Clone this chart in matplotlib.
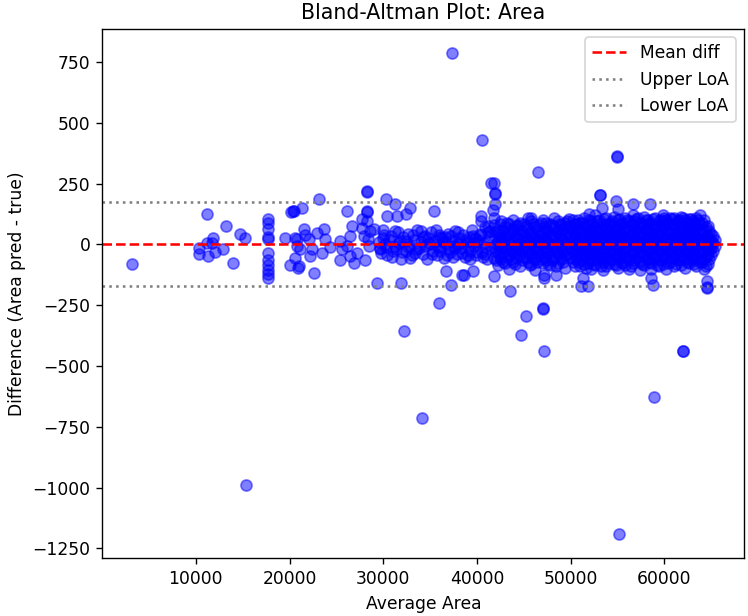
import matplotlib
matplotlib.use("Agg")
import matplotlib.pyplot as plt
from matplotlib.ticker import MultipleLocator

# ---- data (Average Area, Difference) ----
low_x = [3150, 11210, 10350, 10330, 11320, 12030, 12920, 11850, 11670, 11140,
         13210, 14710, 15250, 14000,
         17750, 17750, 17750, 17750, 17750, 17750, 17750, 17750, 17750, 17750, 17750,
         19530, 20100, 20350, 20780, 20060, 20780, 20900]
low_y = [-80, 124, -14, -41, -48, -32, -18, 28, 7, 5,
         76, 45, 28, -76,
         103, 90, 62, 32, 23, -34, -62, -83, -103, -120, -138,
         28, 133, 138, 21, -83, -7, -96]

mid_x = [20420, 21320, 20600, 21490, 21670, 21130, 20960, 20600, 22030, 22200,
         22560, 22380, 23100, 22920, 23630, 23810, 23450, 24300,
         25420, 25600, 25420, 26130, 26670, 26490, 26130, 26490, 26850, 27200,
         27740, 27740, 27920, 28100, 28270, 28270, 28270, 28270, 28270, 28630,
         28990, 28400, 28500, 29350, 29700, 30240, 30420, 31300, 31490, 32380,
         31840, 32200, 35410, 35950, 36660, 37200, 38450, 38620, 39520, 40410,
         40410, 41480, 30000, 32800]
mid_y = [138, 152, 28, 62, 41, -20, -89, -55, 21, -48,
         -117, -20, 186, 48, 62, 21, -34, -10,
         14, -20, -62, 138, 76, 34, -7, -48, -76, -34,
         69, 103, 34, -62, 221, 215, 138, 132, 96, 55,
         62, 21, -7, -158, -20, 186, 117, 165, 117, 124,
         -158, -358, 138, -241, -110, -165, -124, -124, -110, 117,
         96, 255, 60, 150]

band1_x = [29500, 29800, 30100, 30300, 30600, 30900, 31200, 31400, 31700, 31900,
           32100, 32400, 32600, 32900, 33100, 33300, 33600, 33800, 34000, 34200,
           34500, 34700, 34900, 35100, 35300, 35500, 35700, 35900, 36100, 36300,
           36500, 36700, 36900, 37100, 37300, 37500, 37700, 37900, 38100, 38300,
           38500, 38700, 38900, 39100, 39300, 39500, 39700, 39900, 40100, 40300,
           40500, 40700, 40900, 41100, 41300, 41500, 38000, 39000, 40000, 36000,
           37000, 39600, 40800, 41200]
band1_y = [10, -35, 40, -10, 20, -50, 55, -20, 5, -60,
           30, -25, 45, -5, -45, 20, 60, -15, 10, -40,
           35, -60, 5, 50, -25, 15, -45, 40, -10, 25,
           -55, 5, 45, -30, 15, -5, 55, -40, 25, -15,
           40, -50, 10, 30, -25, 60, -5, -45, 20, 45,
           -30, 5, 70, -60, 30, -15, 0, -10, 10, 30,
           -20, 35, -40, 50]

band2_x = [29600, 30000, 30400, 30800, 31200, 31600, 32000, 32400, 32800, 33200,
           33600, 34000, 34400, 34800, 35200, 35600, 36000, 36400, 36800, 37200,
           37600, 38000, 38400, 38800, 39200, 39600, 40000, 40400, 40800, 41200,
           30200, 31000, 31800, 32600, 33400, 34200, 35000, 35800, 36600, 37400,
           38200, 39000, 39800, 40600, 41400]
band2_y = [-15, 25, -45, 35, -5, 50, -30, 15, -55, 40,
           -20, 55, -5, 25, -40, 60, -25, 10, -45, 35,
           -15, 50, -35, 20, -60, 5, -30, 40, -10, 75,
           0, -25, 15, -10, -35, 30, 0, -10, 30, -50,
           5, -45, 25, -50, 55]

core_cols = [41800, 42200, 42600, 43000, 43400, 43800, 44200, 44600, 45000, 45400,
             45800, 46200, 46600, 47000, 47400, 47800, 48200, 48600, 49000, 49400,
             49800, 50200, 50600, 51000, 51400, 51800, 52200, 52600, 53000, 53400,
             53800, 54200, 54600, 55000, 55400, 55800, 56200, 56600, 57000, 57400,
             57800, 58200, 58600, 59000, 59400, 59800, 60200, 60600, 61000, 61400,
             61800, 62200, 62600, 63000, 63400, 63800, 64200, 64600, 65000, 65400]
core_vals = [
    [80, 35, -10, -55, 110], [60, 15, -35, -85], [95, 40, -5, -60, 20], [70, 25, -20, -75],
    [50, 5, -45, 85, -100], [100, 60, 10, -30, -70], [75, 30, -15, -55], [45, 0, -40, -90, 90],
    [85, 40, -5, -50, 15], [65, 20, -25, -70, 110], [95, 50, 5, -35, -80], [70, 25, -20, -60, -105],
    [80, 35, -10, -45, 15], [100, 55, 10, -30, -75], [60, 20, -25, -65, 90], [85, 40, 0, -40, -85],
    [70, 30, -15, -55, 110], [95, 50, 5, -35, -75], [60, 20, -20, -60, 80], [90, 45, 0, -45, -95],
    [75, 30, -10, -50, 105], [100, 55, 15, -25, -70], [65, 25, -20, -60, 85], [90, 45, 5, -40, -90],
    [110, 70, 30, -10, -50, -80], [80, 40, 0, -35, -75, 20], [95, 55, 15, -25, -65, -100],
    [70, 35, -5, -45, -85, 120], [100, 60, 20, -20, -55, 10], [85, 45, 5, -30, -70, -105],
    [110, 70, 30, -10, -50, -90], [90, 50, 10, -25, -65, 25], [75, 40, 0, -40, -80, 115],
    [100, 60, 20, -15, -55, -95], [85, 45, 5, -30, -70, 30], [110, 70, 30, -10, -50, -85],
    [95, 55, 15, -25, -60, -100], [80, 40, 0, -35, -75, 120], [105, 65, 25, -15, -55, 10],
    [90, 50, 10, -30, -70, -105], [115, 75, 35, -5, -45, -85], [100, 60, 20, -20, -60, 40],
    [85, 45, 5, -35, -75, -100], [110, 70, 30, -10, -50, 15], [95, 55, 15, -25, -65, -90],
    [120, 80, 40, 0, -40, -80], [100, 60, 20, -20, -55, -100], [85, 45, 5, -30, -70, 110],
    [110, 70, 30, -10, -50, -90], [95, 55, 15, -25, -65, 25], [115, 75, 35, -5, -45, -85],
    [100, 60, 20, -20, -60, -95], [80, 40, 0, -35, -75, 105], [95, 55, 15, -25, -65, 10],
    [110, 70, 30, -10, -50, -90], [85, 45, 5, -30, -70, 120], [100, 60, 20, -20, -55, -100],
    [75, 35, -5, -40, -80, 15], [45, 15, -15, -45], [20, -5],
]

core2_cols = [42000, 42400, 42800, 43200, 43600, 44000, 44400, 44800, 45200, 45600,
              46000, 46400, 46800, 47200, 47600, 48000, 48400, 48800, 49200, 49600,
              50000, 50400, 50800, 51200, 51600, 52000, 52400, 52800, 53200, 53600,
              54000, 54400, 54800, 55200, 55600, 56000, 56400, 56800, 57200, 57600,
              58000, 58400, 58800, 59200, 59600, 60000, 60400, 60800, 61200, 61600,
              62000, 62400, 62800, 63200, 63600, 64000, 64400, 64800, 65200]
core2_vals = [
    [50, 0, -25, -65], [85, 30, -15, -50], [55, 10, -30, -70], [90, 40, -10, -50],
    [65, 20, -25, -60], [40, -5, -35, -80], [80, 25, -20, 60], [55, 10, -25, -65],
    [75, 30, -15, -55], [45, 5, -35, -85], [85, 35, -10, -55], [60, 15, -30, -70],
    [90, 45, 0, -60], [70, 25, -15, -50], [50, 5, -35, -80], [80, 35, -10, -65],
    [55, 10, -30, -90], [85, 40, -5, -50], [65, 20, -25, -70], [95, 50, 5, -35],
    [70, 30, -10, -55], [85, 40, 0, -40, -90], [60, 15, -25, -70, 100], [90, 50, 10, -30, -65],
    [75, 35, -5, -45, -95], [100, 55, 15, -20, -60], [80, 40, 0, -40, -80], [95, 50, 10, -30, -65],
    [70, 30, -10, -50, -90], [105, 60, 20, -15, -55], [85, 45, 5, -35, -75], [95, 55, 15, -20, -60],
    [75, 35, -5, -45, -85], [105, 65, 25, -10, -50], [90, 50, 10, -35, -75], [100, 60, 20, -15, -60],
    [80, 40, 0, -40, -90], [95, 55, 15, -25, -65], [110, 70, 30, -10, -50], [85, 45, 5, -35, -80],
    [100, 60, 20, -20, -60], [90, 50, 10, -30, -70], [105, 65, 25, -15, -55], [80, 40, 0, -40, -85],
    [100, 60, 20, -20, -60], [110, 70, 30, -10, -50], [90, 50, 10, -30, -75], [105, 65, 25, -15, -55],
    [85, 45, 5, -35, -80], [100, 60, 20, -20, -60], [110, 70, 30, -10, -50], [90, 50, 10, -30, -70],
    [105, 65, 25, -15, -55], [85, 45, 5, -35, -80], [100, 60, 20, -20, -60], [90, 50, 10, -30, -70],
    [70, 30, -10, -50, -90], [55, 20, -20, -60], [35, 5, -25],
]

out_x = [41830, 41890, 41890, 41890, 46480, 54970, 54970, 53070, 53070, 54860,
         55000, 56650, 58430, 52000, 41830, 43550, 47010, 47010, 45230, 44690,
         47190, 62000, 62000, 51290, 51110, 51830, 58600, 58780, 64500, 64500,
         64500, 45760, 47190, 47190, 48440, 58930, 55180, 40510, 37300, 34090,
         15350, 41700, 53300]
out_y = [255, 207, 210, 165, 299, 365, 362, 202, 205, 179,
         145, 165, 165, 124, -131, -190, -266, -263, -296, -372,
         -440, -440, -437, -138, -172, -172, -138, -165, -152, -179,
         -176, 110, -124, -138, -124, -628, -1190, 431, 788, -715,
         -988, 140, 150]

mean_diff = 1.5
upper_loa = 175
lower_loa = -172

# ---- assemble ----
avg = low_x + mid_x + band1_x + band2_x + out_x
diff = low_y + mid_y + band1_y + band2_y + out_y
for cols, vals_list in ((core_cols, core_vals), (core2_cols, core2_vals)):
    for cx, vals in zip(cols, vals_list):
        for v in vals:
            avg.append(cx)
            diff.append(v)

fig = plt.figure(figsize=(748 / 123, 616 / 123), dpi=123)
ax = fig.add_axes([0.137, 0.0946, 0.858, 0.8584])
ax.scatter(avg, diff, s=42, color="blue", alpha=0.5)
ax.axhline(mean_diff, color="red", linestyle="--", label="Mean diff")
ax.axhline(upper_loa, color="gray", linestyle=":", label="Upper LoA")
ax.axhline(lower_loa, color="gray", linestyle=":", label="Lower LoA")
ax.yaxis.set_major_locator(MultipleLocator(250))
ax.xaxis.set_major_locator(MultipleLocator(10000))
ax.set_title("Bland-Altman Plot: Area")
ax.set_xlabel("Average Area")
ax.set_ylabel("Difference (Area pred - true)")
ax.legend(loc="upper right")
fig.savefig("out.png", dpi=123)
